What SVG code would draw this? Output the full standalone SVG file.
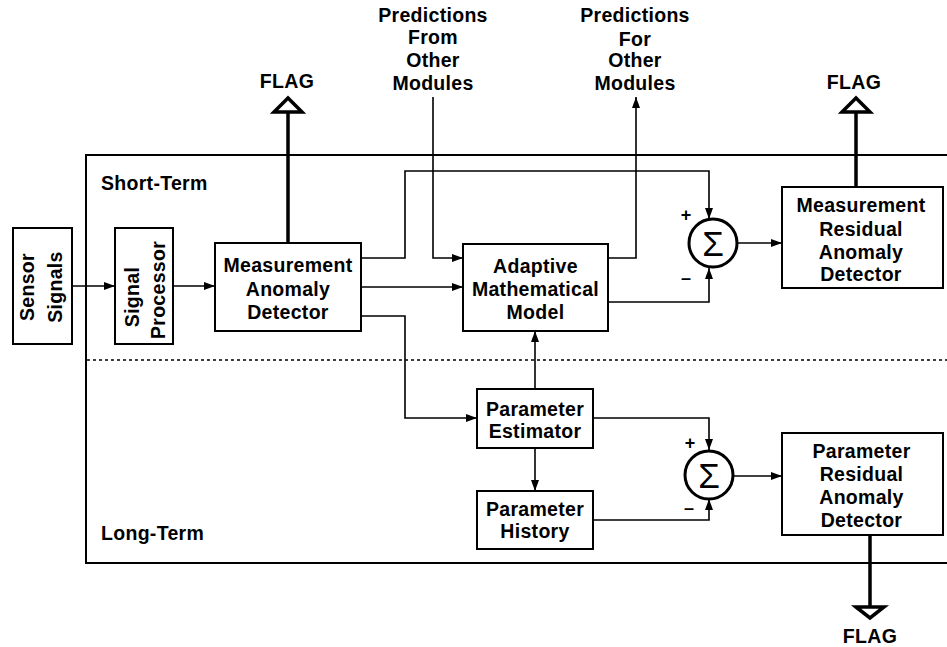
<svg xmlns="http://www.w3.org/2000/svg" width="947" height="647" viewBox="0 0 947 647">
  <style>
    text { font-family: "Liberation Sans", Arial, Helvetica, sans-serif; font-weight: bold; font-size: 19.5px; letter-spacing: 0.3px; fill: #000; }
    .c { text-anchor: middle; }
    .box { fill: #fff; stroke: #000; stroke-width: 2; }
    .frame { fill: none; stroke: #000; stroke-width: 2; }
    .wire { fill: none; stroke: #000; stroke-width: 1.6; }
    .flag { fill: none; stroke: #000; stroke-width: 3.5; }
    .sum { fill: #fff; stroke: #000; stroke-width: 3; }
    .sig { font-weight: normal; font-size: 35px; letter-spacing: 0; }
    .sign { font-size: 18px; letter-spacing: 0; }
  </style>
  <defs>
    <marker id="arrow" markerUnits="userSpaceOnUse" markerWidth="11" markerHeight="8" refX="11" refY="4" orient="auto">
      <path d="M0,0 L11,4 L0,8 z" fill="#000"/>
    </marker>
  </defs>

  <rect width="947" height="647" fill="#fff"/>

  <!-- module frame with short-term / long-term split -->
  <g id="frame">
    <rect class="frame" x="86" y="155" width="900" height="408"/>
    <line x1="87" y1="360" x2="947" y2="360" stroke="#000" stroke-width="1.6" stroke-dasharray="3,3"/>
    <text x="101" y="190">Short-Term</text>
    <text x="101" y="540">Long-Term</text>
  </g>

  <!-- connectors -->
  <g id="connectors">
    <path class="wire" d="M72,286 H115" marker-end="url(#arrow)"/>
    <path class="wire" d="M173,286 H215" marker-end="url(#arrow)"/>
    <path class="wire" d="M361,258 H405 V171 H709 V219" marker-end="url(#arrow)"/>
    <path class="wire" d="M361,287 H463" marker-end="url(#arrow)"/>
    <path class="wire" d="M361,316 H405 V418 H477" marker-end="url(#arrow)"/>
    <path class="wire" d="M433,97 V258 H463" marker-end="url(#arrow)"/>
    <path class="wire" d="M608,258 H636 V97" marker-end="url(#arrow)"/>
    <path class="wire" d="M608,302 H709 V268" marker-end="url(#arrow)"/>
    <path class="wire" d="M738,243 H782" marker-end="url(#arrow)"/>
    <path class="wire" d="M535,389 V331" marker-end="url(#arrow)"/>
    <path class="wire" d="M535,448 V491" marker-end="url(#arrow)"/>
    <path class="wire" d="M593,418 H709 V450" marker-end="url(#arrow)"/>
    <path class="wire" d="M593,520 H709 V499" marker-end="url(#arrow)"/>
    <path class="wire" d="M733,476 H782" marker-end="url(#arrow)"/>
    <!-- flag outputs -->
    <path class="flag" d="M288,243 V112"/>
    <path class="flag" d="M856,187 V112"/>
    <path class="flag" d="M870,535 V607"/>
  </g>

  <g id="flag-mad">
    <polygon class="flag" points="274,112 288,98 302,112" fill="#fff"/>
    <text class="c" x="287" y="88">FLAG</text>
  </g>
  <g id="flag-mrad">
    <polygon class="flag" points="842,112 856,98 870,112" fill="#fff"/>
    <text class="c" x="854" y="89">FLAG</text>
  </g>
  <g id="flag-prad">
    <polygon class="flag" points="856,607 870,618 884,607" fill="#fff"/>
    <text class="c" x="870" y="643">FLAG</text>
  </g>

  <g id="pred-from">
    <text class="c" x="433" y="22">Predictions</text>
    <text class="c" x="433" y="44">From</text>
    <text class="c" x="433" y="67">Other</text>
    <text class="c" x="433" y="90">Modules</text>
  </g>
  <g id="pred-for">
    <text class="c" x="635" y="22">Predictions</text>
    <text class="c" x="635" y="46">For</text>
    <text class="c" x="635" y="67">Other</text>
    <text class="c" x="635" y="90">Modules</text>
  </g>

  <g id="sensor-signals">
    <rect class="box" x="13" y="228" width="59" height="116"/>
    <text class="c" transform="translate(34,287) rotate(-90)">Sensor</text>
    <text class="c" transform="translate(62,287) rotate(-90)">Signals</text>
  </g>

  <g id="signal-processor">
    <rect class="box" x="115" y="228" width="58" height="116"/>
    <text class="c" transform="translate(139,297) rotate(-90)">Signal</text>
    <text class="c" transform="translate(165,290) rotate(-90)">Processor</text>
  </g>

  <g id="measurement-anomaly-detector">
    <rect class="box" x="215" y="243" width="146" height="88"/>
    <text class="c" x="288" y="272">Measurement</text>
    <text class="c" x="288" y="296">Anomaly</text>
    <text class="c" x="288" y="319">Detector</text>
  </g>

  <g id="adaptive-model">
    <rect class="box" x="463" y="244" width="145" height="87"/>
    <text class="c" x="535.5" y="273">Adaptive</text>
    <text class="c" x="535.5" y="296">Mathematical</text>
    <text class="c" x="535.5" y="319">Model</text>
  </g>

  <g id="sum-measurement">
    <circle class="sum" cx="713" cy="243" r="24"/>
    <text class="c sig" x="713" y="255.5">Σ</text>
    <text class="c sign" x="686" y="221">+</text>
    <text class="c sign" x="686" y="284">–</text>
  </g>

  <g id="measurement-residual-detector">
    <rect class="box" x="782" y="187" width="161" height="101"/>
    <text class="c" x="861" y="212">Measurement</text>
    <text class="c" x="861" y="236">Residual</text>
    <text class="c" x="861" y="259">Anomaly</text>
    <text class="c" x="861" y="281">Detector</text>
  </g>

  <g id="parameter-estimator">
    <rect class="box" x="477" y="389" width="116" height="59"/>
    <text class="c" x="535" y="416">Parameter</text>
    <text class="c" x="535" y="438">Estimator</text>
  </g>

  <g id="parameter-history">
    <rect class="box" x="477" y="491" width="116" height="58"/>
    <text class="c" x="535" y="516">Parameter</text>
    <text class="c" x="535" y="538">History</text>
  </g>

  <g id="sum-parameter">
    <circle class="sum" cx="709" cy="475" r="24"/>
    <text class="c sig" x="709" y="487.5">Σ</text>
    <text class="c sign" x="690" y="449">+</text>
    <text class="c sign" x="689" y="514">–</text>
  </g>

  <g id="parameter-residual-detector">
    <rect class="box" x="782" y="433" width="161" height="102"/>
    <text class="c" x="861.5" y="458">Parameter</text>
    <text class="c" x="861.5" y="481">Residual</text>
    <text class="c" x="861.5" y="504">Anomaly</text>
    <text class="c" x="861.5" y="527">Detector</text>
  </g>
</svg>
